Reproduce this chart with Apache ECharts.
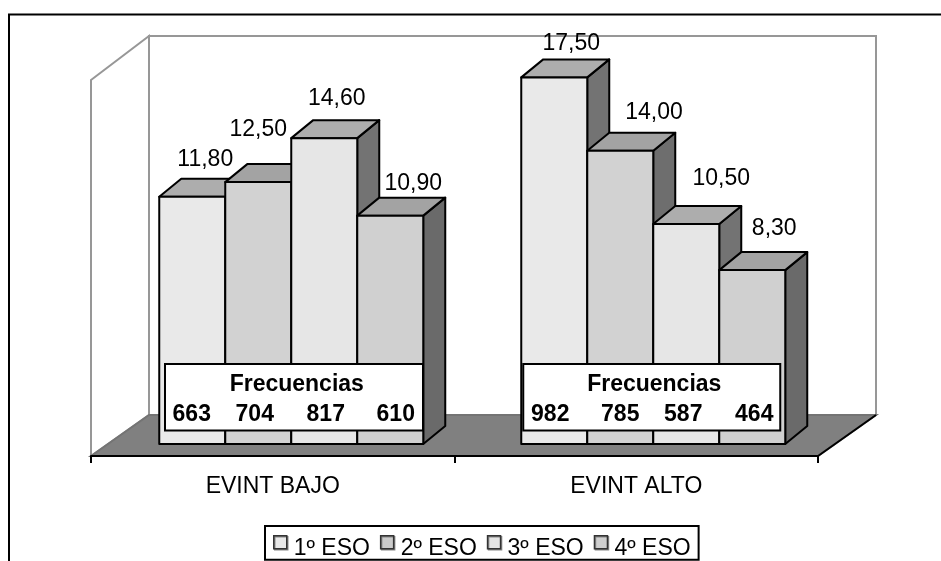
<!DOCTYPE html>
<html>
<head>
<meta charset="utf-8">
<style>html,body{margin:0;padding:0;background:#fff;overflow:hidden}#c{width:941px;height:561px}</style>
<script src="https://cdn.jsdelivr.net/npm/echarts@6/dist/echarts.min.js"></script>
</head>
<body>
<div id="c"></div>
<script>
// ---- data ----
const categories = ['EVINT BAJO', 'EVINT ALTO'];
const seriesNames = ['1º ESO', '2º ESO', '3º ESO', '4º ESO'];
const eso1 = [11.8, 17.5];
const eso2 = [12.5, 14.0];
const eso3 = [14.6, 10.5];
const eso4 = [10.9, 8.3];
const freq1 = [663, 982];
const freq2 = [704, 785];
const freq3 = [817, 587];
const freq4 = [610, 464];
const tableTitle = 'Frecuencias';

// ---- styling ----
const FONT = '"Liberation Sans", Arial, sans-serif';
const frontColors = ['#e9e9e9', '#d2d2d2', '#e6e6e6', '#d0d0d0'];
const topColors = ['#adadad', '#a3a3a3', '#adadad', '#a3a3a3'];
const sideColors = ['#737373', '#6e6e6e', '#737373', '#6a6a6a'];
const legendColors = ['#e8e8e8', '#cbcbcb', '#e4e4e4', '#cfcfcf'];
const barWidth = 66, barDepthX = 22, barDepthY = 18;
const floorDepthX = 58, floorDepthY = 41;
const groupShift = [18.5, 17];
// value label nudges from each bar's front-top centre: [series][category] = [dx, dy]
const labelNudges = [
  [[13, -37], [17, -34]],
  [[0, -52], [33.8, -38.5]],
  [[12.5, -39.5], [35, -45]],
  [[23, -32], [22, -41.5]]
];
// table layout relative to category centre / zero line
const tableBoxes = [[-107.75, 150.25], [-113, 144]];
const tableCellCentres = [[-81, -18, 53, 123], [-86, -16, 47, 118]];
const tableTitleCentres = [24, 18];

const esoValues = [eso1, eso2, eso3, eso4];
const freqValues = [freq1, freq2, freq3, freq4];
const fmt = v => v.toFixed(2).replace('.', ',');

function wallsItem(params, api) {
  const cs = params.coordSys;
  const l = cs.x, r = cs.x + cs.width, t = cs.y, b = cs.y + cs.height;
  const dx = floorDepthX, dy = floorDepthY;
  const wall = { stroke: '#979797', lineWidth: 2, fill: '#fff' };
  return {
    type: 'group', silent: true,
    children: [
      { type: 'polygon', shape: { points: [[l + dx, t], [r + dx, t], [r + dx, b - dy], [l + dx, b - dy]] }, style: wall },
      { type: 'polygon', shape: { points: [[l, t + 44], [l + dx, t], [l + dx, b - dy], [l, b]] }, style: wall },
      { type: 'polygon', shape: { points: [[l, b], [l + dx, b - dy], [r + dx, b - dy], [r, b]] }, style: { fill: '#808080', stroke: '#747474', lineWidth: 2 } },
      { type: 'line', shape: { x1: r, y1: b, x2: r + dx, y2: b - dy }, style: { stroke: '#000', lineWidth: 2 } }
    ]
  };
}

function barItem(si) {
  return function (params, api) {
    const c = api.value(0), val = api.value(1);
    const centre = api.coord([c, 0]);
    const tp = api.coord([c, val]);
    const x0 = centre[0] + groupShift[c] + (si - 2) * barWidth;
    const x1 = x0 + barWidth;
    const y0 = centre[1], y1 = tp[1];
    const dx = barDepthX, dy = barDepthY;
    const st = f => ({ fill: f, stroke: '#000', lineWidth: 2, lineJoin: 'round' });
    const n = labelNudges[si][c];
    return {
      type: 'group',
      children: [
        { type: 'polygon', shape: { points: [[x1, y1], [x1 + dx, y1 - dy], [x1 + dx, y0 - dy], [x1, y0]] }, style: st(sideColors[si]) },
        { type: 'polygon', shape: { points: [[x0, y1], [x0 + dx, y1 - dy], [x1 + dx, y1 - dy], [x1, y1]] }, style: st(topColors[si]) },
        { type: 'rect', shape: { x: x0, y: y1, width: barWidth, height: y0 - y1 }, style: st(frontColors[si]) },
        { type: 'text', z2: 50, style: { x: x0 + barWidth / 2 + n[0], y: y1 + n[1], text: fmt(val), align: 'center', verticalAlign: 'middle', fill: '#000', font: '23px ' + FONT } }
      ]
    };
  };
}

function tableItem(params, api) {
  const c = api.value(0);
  const o = api.coord([c, 0]);
  const box = tableBoxes[c];
  const kids = [
    { type: 'rect', shape: { x: o[0] + box[0], y: o[1] - 80, width: box[1] - box[0], height: 66.5 }, style: { fill: '#fff', stroke: '#000', lineWidth: 2 } },
    { type: 'text', style: { x: o[0] + tableTitleCentres[c], y: o[1] - 59, text: tableTitle, align: 'center', verticalAlign: 'middle', fill: '#000', font: 'bold 23px ' + FONT } }
  ];
  freqValues.forEach((f, i) => kids.push({
    type: 'text',
    style: { x: o[0] + tableCellCentres[c][i], y: o[1] - 29, text: String(f[c]), align: 'center', verticalAlign: 'middle', fill: '#000', font: 'bold 23px ' + FONT }
  }));
  return { type: 'group', silent: true, children: kids };
}

const chart = echarts.init(document.getElementById('c'), null, { renderer: 'canvas' });
chart.setOption({
  animation: false,
  backgroundColor: '#fff',
  graphic: [{
    type: 'rect', z: 0, silent: true,
    shape: { x: 9, y: 14.5, width: 1000, height: 700 },
    style: { fill: '#fff', stroke: '#000', lineWidth: 2 }
  }],
  grid: { left: 91, top: 36, width: 727, height: 420 },
  xAxis: {
    type: 'category', data: categories, boundaryGap: true,
    axisLine: { onZero: false, lineStyle: { color: '#000', width: 2 } },
    axisTick: { show: true, alignWithLabel: false, length: 7, lineStyle: { color: '#000', width: 2 } },
    axisLabel: { color: '#000', fontFamily: FONT, fontSize: 23, margin: 19 },
    z: 1
  },
  yAxis: { type: 'value', min: -0.573, max: 19.475, show: false },
  legend: {
    data: seriesNames, left: 265, top: 526, orient: 'horizontal',
    itemWidth: 13, itemHeight: 13, itemGap: 10, icon: 'rect',
    padding: [9, 8, 0, 8],
    borderColor: '#000', borderWidth: 2, backgroundColor: '#fff',
    itemStyle: { borderColor: '#333', borderWidth: 1.5, shadowColor: '#888', shadowOffsetX: 1, shadowOffsetY: 1, shadowBlur: 0 },
    formatter: name => '{t|' + name + '}',
    textStyle: { color: '#000', fontFamily: FONT, fontSize: 23,
      rich: { t: { color: '#000', fontFamily: FONT, fontSize: 23, padding: [12, 0, 0, 2] } } },
    selectedMode: false
  },
  series: [
    { type: 'custom', name: 'walls', z: 0, silent: true, renderItem: wallsItem, data: [[0, 0]], encode: { x: 0, y: 1 }, clip: false }
  ].concat(seriesNames.map((name, si) => ({
    type: 'custom', name, z: 2, silent: true,
    itemStyle: { color: legendColors[si] },
    renderItem: barItem(si),
    encode: { x: 0, y: 1 },
    clip: false,
    data: categories.map((_, c) => [c, esoValues[si][c]])
  }))).concat([
    { type: 'custom', name: 'tabla', z: 3, silent: true, renderItem: tableItem, encode: { x: 0, y: 1 }, clip: false, data: categories.map((_, c) => [c, 0]) }
  ])
});
</script>
</body>
</html>
